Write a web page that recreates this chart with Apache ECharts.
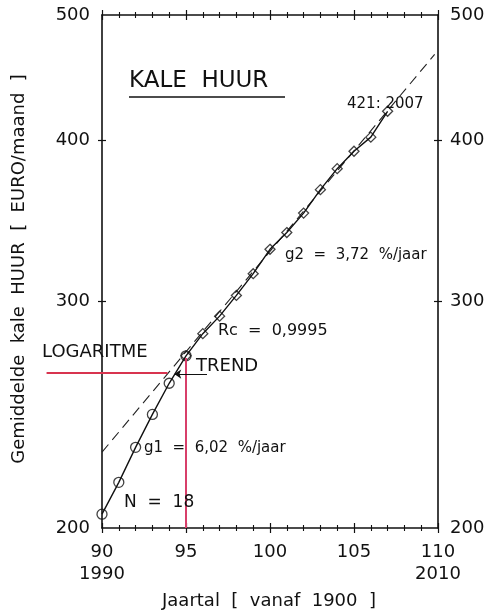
<!DOCTYPE html>
<html>
<head>
<meta charset="utf-8">
<script src="https://cdn.jsdelivr.net/npm/echarts@6/dist/echarts.min.js"></script>
<style>
html,body{margin:0;padding:0;background:#fff;}
#chart{width:494px;height:615px;}
</style>
</head>
<body>
<div id="chart"></div>
<script>
// ---- data ----
var years = [90, 91, 92, 93, 94, 95, 96, 97, 98, 99, 100, 101, 102, 103, 104, 105, 106, 107];
var huur  = [205, 217, 231, 245, 259, 272, 283, 292, 303, 315, 329, 339, 351, 366, 380, 392, 402, 421];
var circleYears = [90, 91, 92, 93, 94, 95];          // first period, circle markers
var diamondYears = [95, 96, 97, 98, 99, 100, 101, 102, 103, 104, 105, 106, 107]; // second period
var trendYears = [90, 109.8];
var trendValues = [229, 466];
var redHYears = [86.7, 93.9];
var redHValue = 264;
var redVYear = 95;
var redVValues = [271, 200];
var trendArrowYears = [96.25, 94.3];
var trendArrowValue = 263.3;
var yTickLabels = [200, 300, 400, 500];
var yTicks = [300, 400];
var xMin = 90, xMax = 110, yMin = 200, yMax = 500;

// ---- helpers ----
function L(v){ return Math.log10(v); }
function pair(x, v){ return [x, L(v)]; }
var FONT = 'DejaVu Sans';

var mainData = years.map(function(y,i){ return pair(y, huur[i]); });
function pick(list){ return list.map(function(y){ return pair(y, huur[years.indexOf(y)]); }); }

function xAx(pos, inside, showLabel, showLine){
  return {
    type:'value', position:pos, min:xMin, max:xMax, interval:5,
    axisLine:{show:showLine, onZero:false, lineStyle:{color:'#111', width:1.6}},
    axisTick:{show:true, inside:inside, length:5, lineStyle:{color:'#111', width:1.2}},
    minorTick:{show:true, splitNumber:5, length:3, lineStyle:{color:'#111', width:1.1}},
    axisLabel:{show:showLabel, fontFamily:FONT, fontSize:18, color:'#111', lineHeight:22, margin:13,
      formatter:function(v){ if(v===90) return '90\n1990'; if(v===110) return '110\n2010'; return String(v); }},
    splitLine:{show:false}, minorSplitLine:{show:false}
  };
}
function yAx(pos, inside, showLabel, showLine){
  return {
    type:'value', position:pos, min:L(yMin), max:L(yMax),
    axisLine:{show:showLine, onZero:false, lineStyle:{color:'#111', width:1.6}},
    axisTick:{show:true, inside:inside, length:4, customValues:yTicks.map(L), lineStyle:{color:'#111', width:1.2}},
    axisLabel:{show:showLabel, fontFamily:FONT, fontSize:18, color:'#111', margin:12,
      customValues:yTickLabels.map(L),
      formatter:function(v){ return String(Math.round(Math.pow(10, v))); }},
    splitLine:{show:false}
  };
}

var chart = echarts.init(document.getElementById('chart'), null, {renderer:'canvas'});
var txt = function(text, x, y, size, extra){
  var o = {type:'text', x:x, y:y, z:100, style:{text:text, fontFamily:FONT, fontSize:size, fill:'#111', verticalAlign:'middle', textAlign:'left'}};
  if(extra){ for(var k in extra){ if(k==='style'){ for(var s in extra.style) o.style[s]=extra.style[s]; } else o[k]=extra[k]; } }
  return o;
};

chart.setOption({
  animation:false,
  backgroundColor:'#fff',
  grid:{left:102, right:56, top:15, bottom:87, containLabel:false},
  xAxis:[ xAx('bottom', false, true, true), xAx('bottom', true, false, false), xAx('top', false, false, true), xAx('top', true, false, false) ],
  yAxis:[ yAx('left', false, true, true), yAx('left', true, false, false), yAx('right', false, true, true), yAx('right', true, false, false) ],
  series:[
    {type:'line', data:trendYears.map(function(y,i){ return pair(y, trendValues[i]); }), symbol:'none',
     lineStyle:{color:'#222', width:1.1, type:[10,6]}, z:2},
    {type:'line', data:mainData, symbol:'none', lineStyle:{color:'#111', width:1.4}, z:3},
    {type:'scatter', data:pick(circleYears), symbol:'circle', symbolSize:10,
     itemStyle:{color:'rgba(255,255,255,0)', borderColor:'#111', borderWidth:1.3}, z:4},
    {type:'scatter', data:pick(diamondYears), symbol:'diamond', symbolSize:10,
     itemStyle:{color:'rgba(255,255,255,0)', borderColor:'#111', borderWidth:1.3}, z:4},
    {type:'lines', coordinateSystem:'cartesian2d', clip:false, z:5,
     data:[{coords:[pair(redHYears[0], redHValue), pair(redHYears[1], redHValue)]}],
     symbol:['none','none'], lineStyle:{color:'#d8344f', width:2, opacity:1}},
    {type:'lines', coordinateSystem:'cartesian2d', clip:false, z:5,
     data:[{coords:[pair(redVYear, redVValues[0]), pair(redVYear, redVValues[1])]}],
     symbol:['none','none'], lineStyle:{color:'#d83f6a', width:2, opacity:1}},
    {type:'lines', coordinateSystem:'cartesian2d', clip:false, z:6,
     data:[{coords:[pair(trendArrowYears[0], trendArrowValue), pair(trendArrowYears[1], trendArrowValue)]}],
     symbol:['none','arrow'], symbolSize:7, lineStyle:{color:'#111', width:1.2, opacity:1}}
  ],
  graphic:[
    txt('KALE  HUUR', 129, 81, 23),
    {type:'line', z:100, shape:{x1:129, y1:97, x2:285, y2:97}, style:{stroke:'#111', lineWidth:1.5}},
    txt('421: 2007', 347, 104, 15),
    txt('g2  =  3,72  %/jaar', 285, 255, 15),
    txt('Rc  =  0,9995', 218, 331, 16),
    txt('LOGARITME', 42, 352, 18),
    txt('TREND', 196, 366, 18),
    txt('g1  =  6,02  %/jaar', 144, 448, 15),
    txt('N  =  18', 124, 503, 17),
    txt('Gemiddelde  kale  HUUR  [  EURO/maand  ]', 19, 269, 18, {rotation:Math.PI/2, style:{textAlign:'center'}}),
    txt('Jaartal  [  vanaf  1900  ]', 269, 601, 18, {style:{textAlign:'center'}})
  ]
});
</script>
</body>
</html>
